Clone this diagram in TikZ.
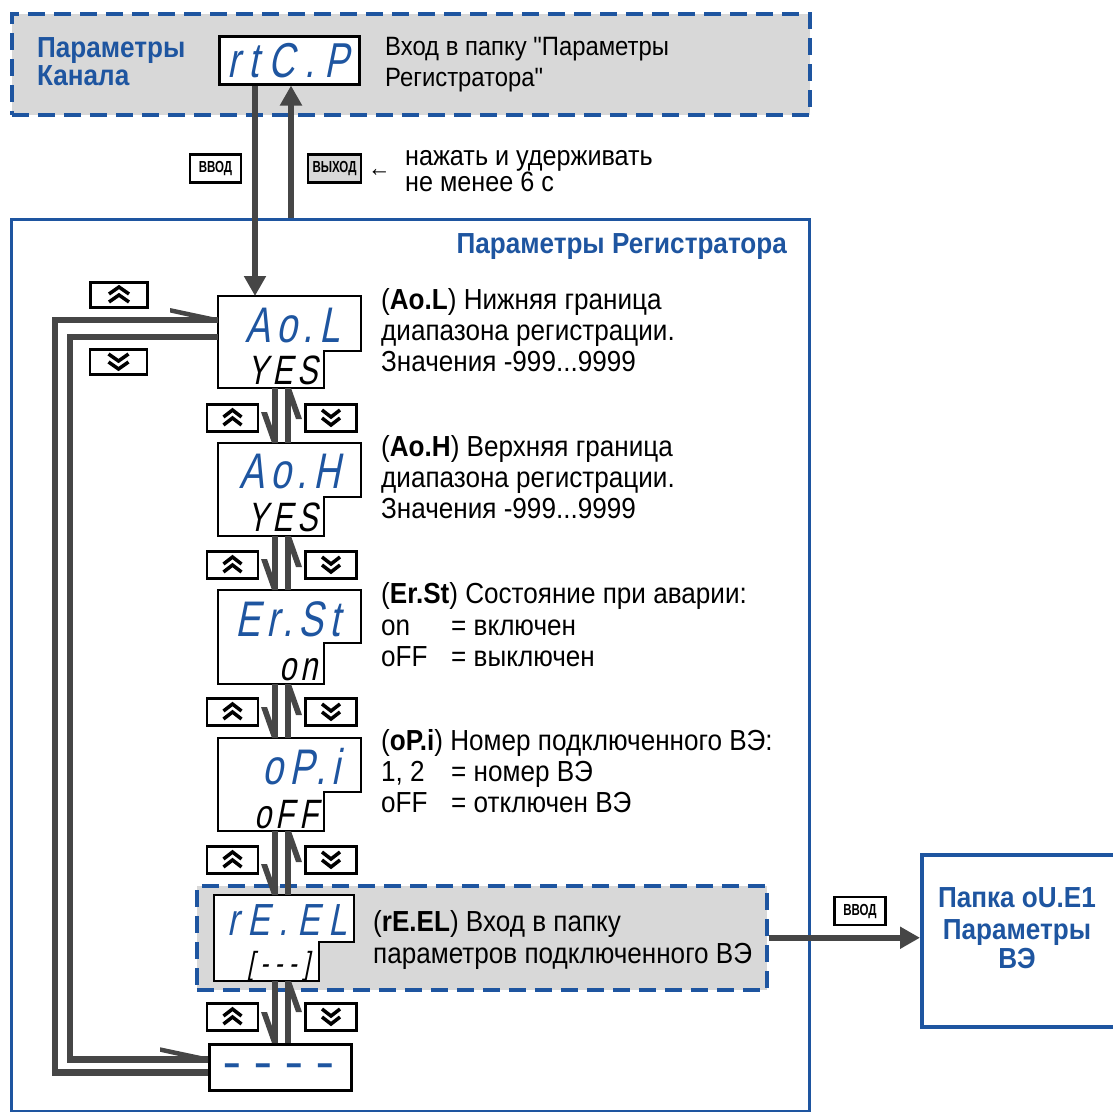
\documentclass[tikz,border=0pt]{standalone}
\usepackage{fontspec}
\newfontfamily\tf{Liberation Sans}[FakeStretch=0.9]
\newfontfamily\segfont{Liberation Sans}[FakeSlant=0.2,FakeStretch=0.74,LetterSpace=12]
\newfontfamily\segwide{Liberation Sans}[FakeSlant=0.2,FakeStretch=0.74,LetterSpace=20]
\newfontfamily\kf{Liberation Sans}[FakeStretch=0.72]
\newfontfamily\dashf{Liberation Sans}[FakeStretch=0.7]
\usetikzlibrary{arrows.meta,calc}
\definecolor{cblue}{RGB}{30,85,160}
\definecolor{cgray}{RGB}{70,70,70}
\definecolor{cfill}{RGB}{216,216,216}
\tikzset{
  txt/.style={inner sep=0, anchor=base west, font=\tf\fontsize{29}{31}\selectfont},
  btxt/.style={inner sep=0, anchor=base west, text=cblue, font=\tf\bfseries\fontsize{29}{31}\selectfont},
  displine/.style={draw=black, line width=2.5, fill=white},
  segtop/.style={inner sep=0, anchor=base east, text=cblue, font=\segfont\fontsize{50}{50}\selectfont},
  segbot/.style={inner sep=0, anchor=base east, text=black, font=\segfont\fontsize{41}{41}\selectfont},
  btn/.style={draw=black, line width=2.5, minimum width=51, minimum height=27, inner sep=0, fill=white},
  bigbtn/.style={btn, minimum width=57, minimum height=25},
  chev/.style={draw=black, line width=3.5},
  keybox/.style={draw=black, line width=2.2, minimum width=51, minimum height=28, inner sep=0, font=\kf\bfseries\fontsize{16}{16}\selectfont},
  bigarrow/.style={draw=cgray, line width=6, -{Triangle[length=20pt,width=21pt]}},
  conn/.style={draw=cgray, line width=5.5},
  loopline/.style={draw=cgray, line width=6.5},
  dbarb/.pic={\fill[cgray] (-14,-31) -- (-8,-31) -- (3,0) -- (-3,0) -- cycle;},
  ubarb/.pic={\fill[cgray] (14,31) -- (8,31) -- (-3,0) -- (3,0) -- cycle;},
  hbarb/.pic={\fill[cgray] (-48,-12) -- (0,-1.8) -- (0,3.2) -- (-48,-7.5) -- cycle;},
}
\newcommand\dispbox[7]{%
  \node[inner sep=0, outer sep=0, minimum width={#4-#2}, minimum height={#5-#3}, anchor=north west] (#1) at (#2,#3) {};
  \draw[displine] (#1.north west) -- (#1.north east) -- (#4,#6) -- (#7,#6) -- (#7,#5) -- (#1.south west) -- cycle;}
\newcommand\btnup[3]{%
  \node[btn] (#1) at (#2,#3) {};
  \draw[chev] ([shift={(-9,-1)}]#1.center) -- ([shift={(0,-8)}]#1.center) -- ([shift={(9,-1)}]#1.center);
  \draw[chev] ([shift={(-9,7)}]#1.center) -- ([shift={(0,0)}]#1.center) -- ([shift={(9,7)}]#1.center);}
\newcommand\btndown[3]{%
  \node[btn] (#1) at (#2,#3) {};
  \draw[chev] ([shift={(-9,-8)}]#1.center) -- ([shift={(0,-1)}]#1.center) -- ([shift={(9,-8)}]#1.center);
  \draw[chev] ([shift={(-9,0)}]#1.center) -- ([shift={(0,7)}]#1.center) -- ([shift={(9,0)}]#1.center);}
\newcommand\pairconn[4]{% upper node, lower node, xshift upper, xshift lower
  \draw[conn] ([xshift=#3pt]#1.south west) -- ([xshift=#4pt]#2.north west);
  \pic at ([xshift=#4pt]#2.north west) {dbarb};
  \draw[conn] ([xshift=#4pt+13pt]#2.north west) -- ([xshift=#3pt+13pt]#1.south west);
  \pic at ([xshift=#3pt+13pt]#1.south west) {ubarb};}
\begin{document}
\begin{tikzpicture}[x=1pt,y=-1pt]
\useasboundingbox (0,0) rectangle (1112,1112);
% outer boxes
\node[draw=cblue, fill=cfill, line width=3.5, dash pattern=on 17pt off 9pt, minimum width=798, minimum height=101, inner sep=0, anchor=north west] (chan) at (10,12) {};
\node[draw=cblue, line width=3, minimum width=798, minimum height=892, inner sep=0, anchor=north west] (reg) at (10,218) {};
\node[draw=cblue, fill=cfill, line width=3.5, dash pattern=on 17pt off 9pt, minimum width=570, minimum height=104, inner sep=0, anchor=north west] (reelbox) at (195,884) {};
\node[draw=cblue, line width=3.5, minimum width=194, minimum height=172, inner sep=0, anchor=north west] (papka) at (920,853) {};
% top area
\node[btxt] (chan1) at (37,57) {Параметры};
\node[btxt] (chan2) at (37,85) {Канала};
\node[draw=black, line width=2.5, fill=white, minimum width=140, minimum height=48, inner sep=0, anchor=north west] (rtcp) at (218,35) {};
\node[segtop, font=\segwide\fontsize{49}{49}\selectfont] (rtcpt) at (349,77) {rtC.P};
\node[txt, font=\tf\fontsize{26.5}{28}\selectfont] (enter1) at (385,55) {Вход в папку "Параметры};
\node[txt, font=\tf\fontsize{26.5}{28}\selectfont] (enter2) at (385,86) {Регистратора"};
\node[btxt, anchor=base east] (regtitle) at (787,253) {Параметры Регистратора};
\node[keybox] (kin) at (215.5,168.5) {ВВОД};
\node[keybox, fill=cfill, minimum width=53] (kout) at (334.5,168.5) {ВЫХОД};
\node[txt, font=\tf\fontsize{25}{25}\selectfont] (larr) at (368,176) {←};
\node[txt, font=\tf\fontsize{28}{28}\selectfont] (hold1) at (405,165) {нажать и удерживать};
\node[txt, font=\tf\fontsize{28}{28}\selectfont] (hold2) at (405,191) {не менее 6 с};
% displays
\dispbox{aol}{218}{296}{361}{388}{351}{324}
\node[segtop] (aolt) at (340,342) {Ao.L};
\node[segbot] (aolb) at (318,384) {YES};
\dispbox{aoh}{218}{443}{361}{536}{497}{324}
\node[segtop] (aoht) at (340,488) {Ao.H};
\node[segbot] (aohb) at (318,531) {YES};
\dispbox{erst}{218}{590}{361}{684}{643}{324}
\node[segtop] (erstt) at (340,636) {Er.St};
\node[segbot] (erstb) at (318,680) {on};
\dispbox{opi}{218}{738}{361}{831}{792}{324}
\node[segtop] (opit) at (340,784) {oP.i};
\node[segbot] (opib) at (318,828) {oFF};
\dispbox{reel}{214}{895}{354}{981}{942}{319}
\node[segtop, font=\segwide\fontsize{45}{45}\selectfont] (reelt) at (347,935) {rE.EL};
\node[segbot, font=\segwide\fontsize{32}{32}\selectfont] (reelb) at (310,974) {[---]};
\node[draw=black, line width=2.5, fill=white, minimum width=142, minimum height=46, inner sep=0, anchor=north west] (dash) at (208,1043) {};
\node[inner sep=0, anchor=base, text=cblue, font=\dashf\bfseries\fontsize{40}{40}\selectfont] (dasht) at (279,1076) {–\hspace{15.4pt}–\hspace{15.4pt}–\hspace{15.4pt}–};
% descriptions
\node[txt] (d1a) at (381,309) {(\textbf{Ao.L}) Нижняя граница};
\node[txt] (d1b) at (381,340) {диапазона регистрации.};
\node[txt] (d1c) at (381,371) {Значения -999...9999};
\node[txt] (d2a) at (381,456) {(\textbf{Ao.H}) Верхняя граница};
\node[txt] (d2b) at (381,487) {диапазона регистрации.};
\node[txt] (d2c) at (381,518) {Значения -999...9999};
\node[txt] (d3a) at (381,603) {(\textbf{Er.St}) Состояние при аварии:};
\node[txt] (d3b) at (381,635) {on};
\node[txt] (d3c) at (451,635) {= включен};
\node[txt] (d3d) at (381,666) {oFF};
\node[txt] (d3e) at (451,666) {= выключен};
\node[txt] (d4a) at (381,750) {(\textbf{oP.i}) Номер подключенного ВЭ:};
\node[txt] (d4b) at (381,781) {1, 2};
\node[txt] (d4c) at (451,781) {= номер ВЭ};
\node[txt] (d4d) at (381,812) {oFF};
\node[txt] (d4e) at (451,812) {= отключен ВЭ};
\node[txt] (d5a) at (373,931) {(\textbf{rE.EL}) Вход в папку};
\node[txt] (d5b) at (373,963) {параметров подключенного ВЭ};
% papka text
\node[btxt, anchor=base] (p1) at (1017,907) {Папка oU.E1};
\node[btxt, anchor=base] (p2) at (1017,939) {Параметры};
\node[btxt, anchor=base] (p3) at (1017,968) {ВЭ};
% main arrows
\draw[bigarrow] ([xshift=37pt]rtcp.south west) -- ([xshift=37pt]aol.north west);
\draw[bigarrow] ([xshift=281pt]reg.north west) -- ([xshift=73pt]rtcp.south west);
\draw[bigarrow] (reelbox.east) -- (reelbox.east -| papka.west);
\node[keybox] (kin2) at (860,911) {ВВОД};
% pair connectors
\pairconn{aol}{aoh}{57}{57}
\pairconn{aoh}{erst}{57}{57}
\pairconn{erst}{opi}{57}{57}
\pairconn{opi}{reel}{57}{61}
\pairconn{reel}{dash}{61}{67}
% buttons
\btnup{u1}{232.5}{418}\btndown{v1}{331}{418}
\btnup{u2}{232.5}{565}\btndown{v2}{331}{565}
\btnup{u3}{232.5}{712}\btndown{v3}{331}{712}
\btnup{u4}{232.5}{860}\btndown{v4}{331}{860}
\btnup{u5}{232.5}{1017}\btndown{v5}{331}{1017}
\node[bigbtn] (tu) at (119,295) {};
\draw[chev] ([shift={(-10,-1)}]tu.center) -- ([shift={(0,-8)}]tu.center) -- ([shift={(10,-1)}]tu.center);
\draw[chev] ([shift={(-10,7)}]tu.center) -- ([shift={(0,0)}]tu.center) -- ([shift={(10,7)}]tu.center);
\node[bigbtn] (tv) at (118.5,362) {};
\draw[chev] ([shift={(-10,-8)}]tv.center) -- ([shift={(0,-1)}]tv.center) -- ([shift={(10,-8)}]tv.center);
\draw[chev] ([shift={(-10,0)}]tv.center) -- ([shift={(0,7)}]tv.center) -- ([shift={(10,0)}]tv.center);
% loop lines
\draw[loopline] ([yshift=-5pt]dash.west) -- ++(-153,0) |- ([yshift=22pt]aol.west);
\pic at ([yshift=22pt]aol.west) {hbarb};
\draw[loopline] ([yshift=5pt]aol.west) -- ++(-148,0) |- ([yshift=8pt]dash.west);
\pic at ([yshift=8pt]dash.west) {hbarb};
\end{tikzpicture}
\end{document}
